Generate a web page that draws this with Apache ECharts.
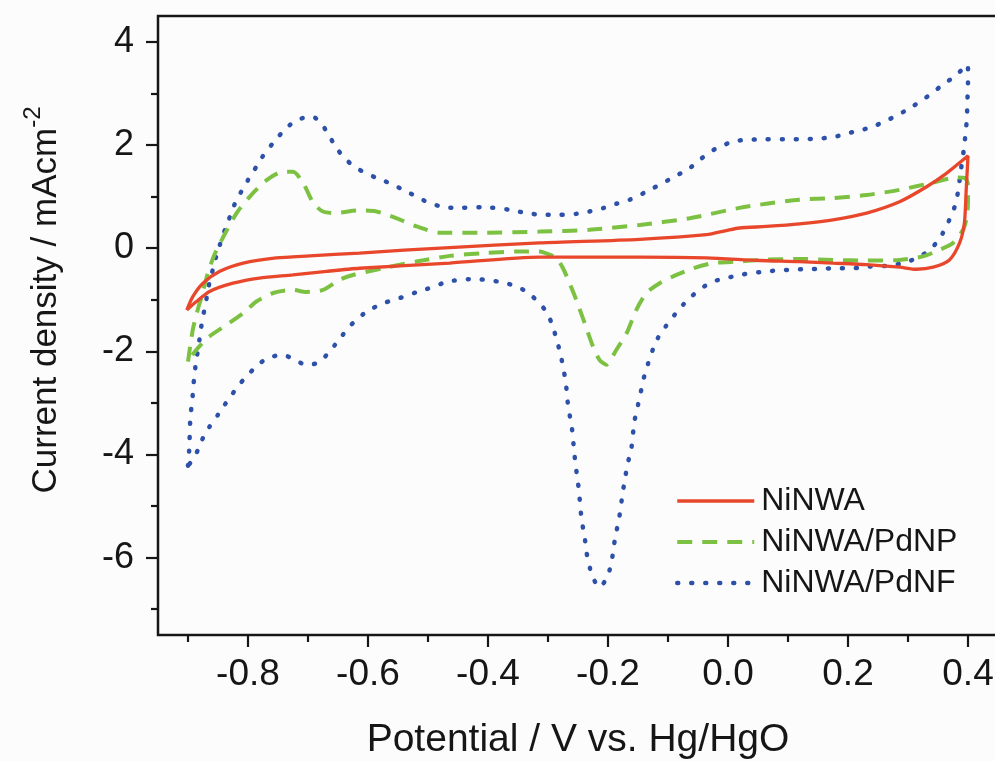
<!DOCTYPE html>
<html>
<head>
<meta charset="utf-8">
<script src="https://cdn.jsdelivr.net/npm/echarts@6/dist/echarts.min.js"></script>
<style>
  html, body { margin: 0; padding: 0; background: #fcfcfc; }
  #chart { width: 995px; height: 761px; }
</style>
</head>
<body>
<div id="chart"></div>
<script>
// Cyclic voltammograms: [potential (V vs. Hg/HgO), current density (mA cm^-2)]
// Each loop is stored as its anodic (forward) and cathodic (reverse) sweep.

const nwaAnodic = [
  [-0.902,-1.20],[-0.892,-0.94],[-0.875,-0.68],[-0.847,-0.45],[-0.808,-0.29],[-0.753,-0.19],
  [-0.697,-0.15],[-0.614,-0.095],[-0.540,-0.04],[-0.464,0.01],[-0.314,0.10],[-0.147,0.17],
  [-0.036,0.26],[-0.003,0.34],[0.019,0.39],[0.064,0.42],[0.119,0.47],[0.175,0.55],[0.231,0.68],
  [0.286,0.90],[0.331,1.19],[0.364,1.45],[0.400,1.79]
];
const nwaCathodic = [
  [0.397,1.13],[0.394,0.49],[0.386,0.10],[0.369,-0.23],[0.342,-0.37],[0.314,-0.41],[0.286,-0.37],
  [0.231,-0.32],[0.175,-0.29],[0.119,-0.26],[0.053,-0.24],[-0.036,-0.19],[-0.147,-0.175],
  [-0.314,-0.175],[-0.464,-0.29],[-0.614,-0.39],[-0.669,-0.45],[-0.725,-0.52],[-0.781,-0.58],
  [-0.825,-0.68],[-0.864,-0.84],[-0.886,-1.035],[-0.902,-1.20]
];

const pdnpAnodic = [
  [-0.900,-2.20],[-0.892,-1.58],[-0.883,-1.16],[-0.878,-0.97],[-0.867,-0.49],[-0.856,-0.13],
  [-0.842,0.20],[-0.819,0.68],[-0.797,1.00],[-0.769,1.32],[-0.742,1.48],[-0.725,1.48],
  [-0.708,1.26],[-0.691,0.87],[-0.675,0.71],[-0.653,0.68],[-0.619,0.73],[-0.586,0.71],
  [-0.553,0.58],[-0.519,0.42],[-0.480,0.30],[-0.408,0.30],[-0.314,0.32],[-0.231,0.355],
  [-0.147,0.45],[-0.064,0.58],[0.019,0.78],[0.064,0.86],[0.119,0.94],[0.175,0.97],
  [0.231,1.03],[0.286,1.13],[0.342,1.27],[0.381,1.37],[0.395,1.36]
];
const pdnpCathodic = [
  [0.400,1.20],[0.400,0.90],[0.398,0.60],[0.392,0.36],[0.375,0.10],[0.353,-0.03],[0.325,-0.16],
  [0.286,-0.23],[0.231,-0.24],[0.175,-0.23],[0.119,-0.21],[0.053,-0.227],[0.019,-0.26],
  [-0.025,-0.29],[-0.058,-0.39],[-0.086,-0.52],[-0.114,-0.68],[-0.136,-0.87],[-0.153,-1.20],
  [-0.169,-1.65],[-0.186,-1.97],[-0.203,-2.26],[-0.214,-2.17],[-0.225,-1.91],[-0.239,-1.45],
  [-0.253,-1.00],[-0.264,-0.68],[-0.275,-0.39],[-0.286,-0.19],[-0.303,-0.10],[-0.314,-0.066],
  [-0.353,-0.066],[-0.408,-0.097],[-0.464,-0.15],[-0.519,-0.26],[-0.575,-0.39],[-0.625,-0.52],
  [-0.647,-0.61],[-0.675,-0.81],[-0.703,-0.85],[-0.725,-0.81],[-0.758,-0.87],[-0.786,-1.035],
  [-0.808,-1.26],[-0.836,-1.49],[-0.864,-1.71],[-0.886,-1.97],[-0.900,-2.20]
];

const pdnfAnodic = [
  [-0.900,-4.22],[-0.898,-3.91],[-0.896,-3.27],[-0.893,-2.97],[-0.891,-2.68],[-0.889,-2.42],
  [-0.885,-2.09],[-0.881,-1.78],[-0.878,-1.53],[-0.873,-1.21],[-0.869,-0.97],[-0.864,-0.65],
  [-0.858,-0.39],[-0.853,-0.16],[-0.847,0.06],[-0.843,0.22],[-0.836,0.42],[-0.828,0.68],
  [-0.819,0.94],[-0.811,1.10],[-0.800,1.32],[-0.786,1.58],[-0.772,1.84],[-0.758,2.04],
  [-0.736,2.33],[-0.717,2.49],[-0.693,2.55],[-0.678,2.42],[-0.664,2.16],[-0.650,1.90],
  [-0.636,1.71],[-0.619,1.55],[-0.586,1.36],[-0.564,1.26],[-0.536,1.10],[-0.497,0.87],
  [-0.478,0.81],[-0.456,0.78],[-0.408,0.795],[-0.364,0.743],[-0.336,0.679],[-0.308,0.646],
  [-0.281,0.646],[-0.253,0.665],[-0.231,0.71],[-0.208,0.776],[-0.186,0.86],[-0.164,0.937],
  [-0.130,1.13],[-0.090,1.38],[-0.064,1.55],[-0.047,1.71],[-0.030,1.87],[-0.011,1.97],
  [0.008,2.07],[0.036,2.10],[0.064,2.11],[0.092,2.11],[0.122,2.11],[0.150,2.125],[0.175,2.15],
  [0.197,2.22],[0.220,2.28],[0.242,2.36],[0.261,2.455],[0.286,2.60],[0.308,2.75],[0.325,2.88],
  [0.342,3.02],[0.358,3.17],[0.378,3.33],[0.397,3.535],[0.400,3.55]
];
const pdnfCathodic = [
  [0.400,3.20],[0.399,2.85],[0.398,2.49],[0.396,2.23],[0.393,1.91],[0.388,1.50],[0.383,1.07],
  [0.378,0.81],[0.369,0.55],[0.358,0.29],[0.347,0.10],[0.333,-0.066],[0.314,-0.194],
  [0.292,-0.291],[0.264,-0.343],[0.236,-0.357],[0.208,-0.388],[0.181,-0.388],[0.153,-0.401],
  [0.128,-0.407],[0.103,-0.42],[0.081,-0.434],[0.053,-0.465],[0.019,-0.52],[-0.003,-0.582],
  [-0.025,-0.647],[-0.044,-0.776],[-0.061,-0.938],[-0.075,-1.10],[-0.089,-1.293],[-0.104,-1.52],
  [-0.117,-1.745],[-0.125,-1.958],[-0.133,-2.23],[-0.139,-2.457],[-0.144,-2.715],[-0.150,-3.04],
  [-0.156,-3.362],[-0.161,-3.878],[-0.167,-4.169],[-0.172,-4.493],[-0.176,-4.784],[-0.181,-5.205],
  [-0.186,-5.495],[-0.190,-5.753],[-0.194,-6.077],[-0.201,-6.368],[-0.214,-6.574],[-0.226,-6.368],
  [-0.232,-6.108],[-0.236,-5.883],[-0.239,-5.592],[-0.243,-5.333],[-0.246,-5.042],[-0.248,-4.751],
  [-0.251,-4.46],[-0.254,-4.202],[-0.257,-3.878],[-0.259,-3.587],[-0.263,-3.297],[-0.267,-3.006],
  [-0.269,-2.748],[-0.272,-2.49],[-0.276,-2.23],[-0.281,-1.972],[-0.287,-1.714],[-0.294,-1.454],
  [-0.303,-1.229],[-0.317,-1.035],[-0.336,-0.842],[-0.356,-0.731],[-0.375,-0.667],[-0.403,-0.615],
  [-0.431,-0.601],[-0.456,-0.628],[-0.475,-0.679],[-0.494,-0.764],[-0.519,-0.853],[-0.539,-0.938],
  [-0.561,-1.016],[-0.571,-1.055],[-0.592,-1.163],[-0.608,-1.28],[-0.628,-1.487],[-0.642,-1.68],
  [-0.655,-1.875],[-0.669,-2.07],[-0.682,-2.22],[-0.703,-2.263],[-0.722,-2.166],[-0.742,-2.07],
  [-0.767,-2.13],[-0.785,-2.28],[-0.800,-2.457],[-0.815,-2.65],[-0.828,-2.86],[-0.839,-3.04],
  [-0.850,-3.23],[-0.864,-3.46],[-0.875,-3.68],[-0.883,-3.90],[-0.892,-4.10],[-0.900,-4.22]
];

const seriesNames = ['NiNWA', 'NiNWA/PdNP', 'NiNWA/PdNF'];

const xMajorTicks = [-0.8, -0.6, -0.4, -0.2, 0.0, 0.2, 0.4];
const xMinorTicks = [-0.9, -0.7, -0.5, -0.3, -0.1, 0.1, 0.3];
const yMajorTicks = [-6, -4, -2, 0, 2, 4];
const yMinorTicks = [-7, -5, -3, -1, 1, 3];

const X_MIN = -0.95, X_MAX = 0.46;
const Y_MIN = -7.5, Y_MAX = 4.5;

const FONT = '"Liberation Sans", Arial, Helvetica, sans-serif';
const INK = '#161616';

const RED = '#e8472b', GREEN = '#7dc143', BLUE = '#2d50a8';
const redLine = { color: RED, width: 3.3 };
const greenLine = { color: GREEN, width: 4, type: [15, 10] };
const blueLine = { color: BLUE, width: 4.5, type: [1, 13], cap: 'round' };

const chart = echarts.init(document.getElementById('chart'), null, { renderer: 'canvas' });

// Second axis on each side, carrying only the short intermediate ticks.
function minorAxis(kind, ticks) {
  const isX = kind === 'x';
  return {
    type: 'value',
    gridIndex: 0,
    min: isX ? X_MIN : Y_MIN,
    max: isX ? X_MAX : Y_MAX,
    position: isX ? 'bottom' : 'left',
    axisLine: { show: false, onZero: false },
    axisLabel: { show: false },
    splitLine: { show: false },
    axisTick: { show: true, customValues: ticks, length: 7, lineStyle: { color: INK, width: 2.2 } }
  };
}

chart.setOption({
  animation: false,
  backgroundColor: '#fcfcfc',
  grid: {
    left: 158, width: 846, top: 16, bottom: 126,
    outerBoundsMode: 'none',
    containLabel: false,
    show: true, borderColor: INK, borderWidth: 2.5, backgroundColor: 'transparent'
  },
  legend: {
    orient: 'vertical',
    left: 675, top: 485,
    itemWidth: 77, itemHeight: 20, itemGap: 9,
    padding: 0,
    data: [
      { name: seriesNames[0], lineStyle: redLine },
      { name: seriesNames[1], lineStyle: greenLine },
      { name: seriesNames[2], lineStyle: blueLine }
    ],
    itemStyle: { opacity: 0, color: 'transparent', borderWidth: 0 },
    textStyle: { fontFamily: FONT, fontSize: 32, lineHeight: 32, color: INK, padding: [0, 0, 0, 2] }
  },
  xAxis: [
    {
      type: 'value', min: X_MIN, max: X_MAX, position: 'bottom',
      axisLine: { show: false, onZero: false },
      splitLine: { show: false },
      axisTick: { show: true, customValues: xMajorTicks, length: 12, lineStyle: { color: INK, width: 2.2 } },
      axisLabel: {
        customValues: xMajorTicks, margin: 21,
        formatter: v => v.toFixed(1),
        fontFamily: FONT, fontSize: 37, color: INK
      },
      name: 'Potential / V vs. Hg/HgO', nameLocation: 'middle', nameGap: 86,
      nameTextStyle: { fontFamily: FONT, fontSize: 39, lineHeight: 39, color: INK, padding: [0, 6, 0, 0] }
    },
    minorAxis('x', xMinorTicks)
  ],
  yAxis: [
    {
      type: 'value', min: Y_MIN, max: Y_MAX, position: 'left',
      axisLine: { show: false, onZero: false },
      splitLine: { show: false },
      axisTick: { show: true, customValues: yMajorTicks, length: 12, lineStyle: { color: INK, width: 2.2 } },
      axisLabel: {
        customValues: yMajorTicks, margin: 24,
        formatter: v => String(v),
        fontFamily: FONT, fontSize: 36, color: INK
      },
      name: '{t|Current density / mAcm}{s|-2}',
      nameLocation: 'middle', nameGap: 87, nameRotate: 90,
      nameTextStyle: {
        padding: [0, 0, 0, 51],
        rich: {
          t: { fontFamily: FONT, fontSize: 35, lineHeight: 50, color: INK },
          s: { fontFamily: FONT, fontSize: 24, lineHeight: 24, verticalAlign: 'top', color: INK }
        }
      }
    },
    minorAxis('y', yMinorTicks)
  ],
  series: [
    {
      name: seriesNames[0], type: 'line', z: 4,
      data: nwaAnodic.concat(nwaCathodic),
      symbol: 'none', smooth: 0.25,
      itemStyle: { color: RED },
      lineStyle: redLine
    },
    {
      name: seriesNames[1], type: 'line', z: 3,
      data: pdnpAnodic.concat(pdnpCathodic),
      symbol: 'none', smooth: 0.25,
      itemStyle: { color: GREEN },
      lineStyle: greenLine
    },
    {
      name: seriesNames[2], type: 'line', z: 2,
      data: pdnfAnodic.concat(pdnfCathodic),
      symbol: 'none', smooth: 0.25,
      itemStyle: { color: BLUE },
      lineStyle: blueLine
    }
  ]
});
</script>
</body>
</html>
